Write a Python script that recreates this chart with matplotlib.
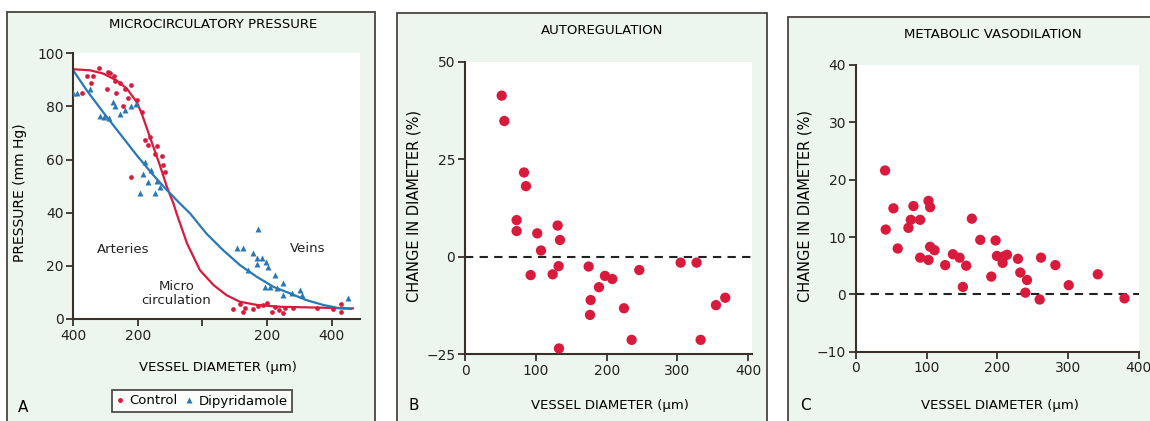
import matplotlib
matplotlib.use('Agg')
import matplotlib.pyplot as plt
from matplotlib.patches import Rectangle
from matplotlib.lines import Line2D

plt.rcParams['font.family'] = ['DejaVu Sans']

#--- Panel A: microcirculatory pressure (x is position along the vascular tree)
a_ticks = [0, 1, 2, 3, 4]
a_ticklabels = ['400', '200', '', '200', '400']

ctrl_pos = [0.13, 0.21, 0.27, 0.31, 0.40, 0.54, 0.57, 0.63, 0.65, 0.72, 0.52, 0.66, 0.80,
            0.90, 0.85, 0.77, 0.99, 1.06, 1.11, 1.19, 1.16, 1.29, 1.26, 1.37, 1.39, 1.42, 0.90,
            2.48, 2.58, 2.63, 2.66, 2.79, 2.86, 2.94, 3.00, 3.07, 3.12, 3.18, 3.25, 3.28, 3.41,
            3.77, 4.02, 4.15, 4.15]
ctrl_p = [85, 91.5, 89, 91.5, 94.5, 93, 92.5, 91.5, 89.5, 89, 86.5, 85, 86.5,
          88, 83, 80, 82.5, 78, 67.5, 68.5, 65.5, 65, 62, 61.5, 58, 55.5, 53.5,
          3.7, 5.5, 2.5, 4, 3.6, 5, 5.3, 6, 2.7, 4.5, 3.5, 2.2, 4, 4,
          4, 3.7, 5.6, 2.7]

dipy_pos = [0.0, 0.05, 0.26, 0.41, 0.47, 0.55, 0.62, 0.65, 0.73, 0.80, 0.90, 0.97,
            1.11, 1.08, 1.21, 1.16, 1.29, 1.04, 1.26, 1.34,
            2.53, 2.63, 2.86, 2.79, 2.84, 2.92, 2.99, 2.84, 2.71, 3.02, 3.12, 2.97,
            3.04, 3.15, 3.25, 3.25, 3.38, 3.51, 3.54, 4.26]
dipy_p = [85, 85, 86.5, 76.5, 76, 75.5, 81.5, 80, 77, 78.5, 80, 81,
          59, 54.5, 56, 51.5, 52, 47.5, 47.5, 49.5,
          26.8, 26.8, 33.8, 24.7, 22.8, 23, 21.5, 20.6, 18.4, 19.7, 16.5, 12,
          12, 11.5, 13.4, 9, 9.7, 10.9, 9, 8]

ctrl_fit_pos = [0, 0.26, 0.46, 0.67, 0.83, 0.98, 1.06, 1.14, 1.24, 1.34, 1.45, 1.55, 1.60,
                1.76, 1.96, 2.17, 2.37, 2.58, 2.84, 3.20, 4.33]
ctrl_fit_p = [94, 93.6, 92.4, 89.8, 86.7, 81.7, 77.3, 71.7, 64.8, 57.9, 49.7, 43.5, 39.7,
              28.5, 18.4, 12.8, 9.0, 6.5, 5.3, 4.6, 4.0]
dipy_fit_pos = [0, 0.21, 0.46, 0.72, 0.98, 1.24, 1.45, 1.65, 1.81, 2.06, 2.32, 2.58, 2.84,
                3.10, 3.35, 3.61, 3.87, 4.13, 4.30]
dipy_fit_p = [93.5, 86, 77.9, 69.8, 61.7, 54.1, 48.5, 43.5, 39.7, 32.2, 25.9, 20.3, 15.9,
              12.1, 9.7, 7.1, 5.3, 4.0, 3.8]

#--- Panel B: autoregulation
b_diam = [51.8, 55.5, 83.3, 86.1, 72.9, 72.9, 102, 107.3, 92.7, 130.8, 134.1, 132.2, 123.8,
          132.7, 174.6, 177.4, 176.5, 189.2, 197.6, 208, 224.5, 235.3, 246.1, 304.5, 327,
          332.7, 354.4, 367.5]
b_change = [41.3, 34.8, 21.6, 18.1, 9.4, 6.6, 6.0, 1.6, -4.7, 8.0, 4.3, -2.4, -4.5,
            -23.5, -2.5, -11.1, -14.9, -7.8, -4.9, -5.7, -13.2, -21.3, -3.4, -1.5, -1.5,
            -21.3, -12.4, -10.5]

#--- Panel C: metabolic vasodilation
c_diam = [41.1, 42, 52.9, 59, 74.1, 77.5, 81.2, 90.7, 90.7, 102.5, 102.5, 104.8, 104.8, 111,
          126.1, 137, 146.4, 151.1, 155.8, 163.8, 175.7, 191.3, 197.4, 199.3, 207.3, 208.7,
          213.5, 229, 232.3, 241.8, 239.5, 261.6, 259.7, 281.9, 300.8, 341.9, 379.7]
c_change = [21.6, 11.3, 15.0, 8.0, 11.6, 13.0, 15.4, 13.0, 6.4, 6.0, 16.3, 15.2, 8.3, 7.7,
            5.1, 7.0, 6.4, 1.3, 5.0, 13.2, 9.5, 3.1, 9.4, 6.7, 5.5, 6.6,
            6.9, 6.2, 3.8, 2.5, 0.3, 6.4, -0.9, 5.1, 1.6, 3.5, -0.7]

RED = '#d91a3d'
BLUE = '#2878b8'
DARK = '#3a302a'
TXT = '#222222'
PANEL_BG = '#edf6ee'

W, H = 1150, 421
fig = plt.figure(figsize=(W / 100, H / 100), dpi=100)
fig.patch.set_facecolor('white')


def fx(x):
    return x / W


def fy(y):
    return 1 - y / H


def add_panel(l, t, r, b):
    fig.patches.append(Rectangle((fx(l), fy(b)), fx(r - l), (b - t) / H, transform=fig.transFigure,
                                 facecolor=PANEL_BG, edgecolor='#4a4440', linewidth=1.3, zorder=-5))


def make_axes(l, t, r, b):
    ax = fig.add_axes([fx(l), fy(b), fx(r - l), (b - t) / H], zorder=2)
    ax.set_facecolor('white')
    for s in ['top', 'right']:
        ax.spines[s].set_visible(False)
    for s in ['left', 'bottom']:
        ax.spines[s].set_color(DARK)
        ax.spines[s].set_linewidth(1.5)
    ax.tick_params(direction='out', length=5, width=1.3, color=DARK, labelsize=10,
                   labelcolor=TXT, pad=2)
    return ax


add_panel(7, 12, 375, 440)
add_panel(397, 13, 767, 440)
add_panel(788, 17, 1160, 440)

#--- A
axA = make_axes(73.3, 53.3, 360, 319)
axA.plot(ctrl_fit_pos, ctrl_fit_p, color=RED, lw=1.6, zorder=2)
axA.plot(dipy_fit_pos, dipy_fit_p, color=BLUE, lw=1.6, zorder=2)
axA.plot(ctrl_pos, ctrl_p, 'o', color=RED, ms=3.4, mec='none', zorder=3)
axA.plot(dipy_pos, dipy_p, '^', color=BLUE, ms=4.4, mec='none', zorder=3)
axA.set_xlim(0, 4.44)
axA.set_ylim(0, 100)
axA.set_xticks(a_ticks)
axA.set_xticklabels(a_ticklabels)
axA.set_yticks([0, 20, 40, 60, 80, 100])
axA.text(0.77, 26, 'Arteries', fontsize=9.5, ha='center', va='center', color=TXT)
axA.text(3.63, 26.7, 'Veins', fontsize=9.5, ha='center', va='center', color=TXT)
axA.text(1.6, 9.5, 'Micro\ncirculation', fontsize=9.5, ha='center', va='center',
         color=TXT, linespacing=1.1)

fig.text(fx(213), fy(24), 'MICROCIRCULATORY PRESSURE', fontsize=9.5, ha='center', va='center')
fig.text(fx(218), fy(368), 'VESSEL DIAMETER (µm)', fontsize=9.5, ha='center', va='center')
fig.text(fx(20), fy(193), 'PRESSURE (mm Hg)', fontsize=10, ha='center', va='center', rotation=90)
fig.text(fx(23), fy(407), 'A', fontsize=11, ha='center', va='center')

handles = [Line2D([], [], marker='o', color=RED, ls='none', ms=3.5, mec='none'),
           Line2D([], [], marker='^', color=BLUE, ls='none', ms=4.5, mec='none')]
leg = fig.legend(handles, ['Control', 'Dipyridamole'], loc='center', ncol=2,
                 bbox_to_anchor=(fx(202), fy(401)), fontsize=9.5, frameon=True, fancybox=False,
                 handlelength=0.6, handletextpad=0.4, columnspacing=0.6, borderpad=0.35)
leg.get_frame().set_edgecolor(TXT)
leg.get_frame().set_linewidth(1.3)
leg.get_frame().set_facecolor('white')

#--- B
axB = make_axes(465, 61.7, 751.6, 354.3)
axB.axhline(0, color=TXT, lw=1.5, ls=(0, (4, 3)), zorder=1)
axB.scatter(b_diam, b_change, s=55, color=RED, edgecolors='none', zorder=3, clip_on=False)
axB.set_xlim(0, 404.7)
axB.set_ylim(-25, 50)
axB.set_xticks([0, 100, 200, 300, 400])
axB.set_yticks([-25, 0, 25, 50])
axB.set_yticklabels(['\u221225', '0', '25', '50'])
fig.text(fx(602), fy(30), 'AUTOREGULATION', fontsize=9.5, ha='center', va='center')
fig.text(fx(610), fy(405), 'VESSEL DIAMETER (µm)', fontsize=9.5, ha='center', va='center')
fig.text(fx(414), fy(206), 'CHANGE IN DIAMETER (%)', fontsize=10.5, ha='center', va='center',
         rotation=90)
fig.text(fx(414), fy(405), 'B', fontsize=11, ha='center', va='center')

#--- C
axC = make_axes(856, 65, 1139.3, 351.7)
axC.axhline(0, color=TXT, lw=1.5, ls=(0, (4, 3)), zorder=1)
axC.scatter(c_diam, c_change, s=55, color=RED, edgecolors='none', zorder=3, clip_on=False)
axC.set_xlim(0, 400.6)
axC.set_ylim(-10, 40)
axC.set_xticks([0, 100, 200, 300, 400])
axC.set_yticks([-10, 0, 10, 20, 30, 40])
axC.set_yticklabels(['\u221210', '0', '10', '20', '30', '40'])
fig.text(fx(993), fy(34), 'METABOLIC VASODILATION', fontsize=9.5, ha='center', va='center')
fig.text(fx(1000), fy(405), 'VESSEL DIAMETER (µm)', fontsize=9.5, ha='center', va='center')
fig.text(fx(805), fy(206), 'CHANGE IN DIAMETER (%)', fontsize=10.5, ha='center', va='center',
         rotation=90)
fig.text(fx(805), fy(405), 'C', fontsize=11, ha='center', va='center')

fig.savefig('out.png', dpi=100)
